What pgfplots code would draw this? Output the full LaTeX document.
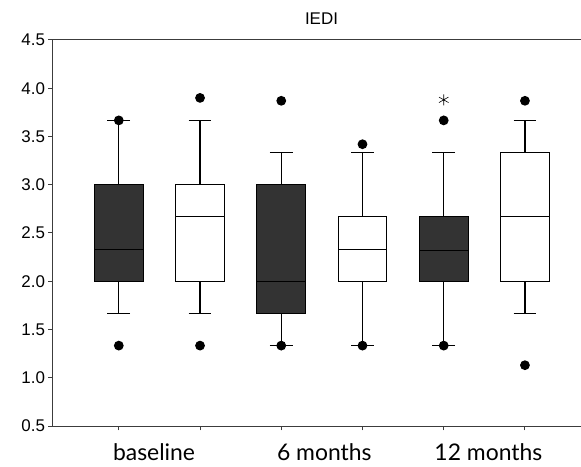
\documentclass[border=0pt]{standalone}
\usepackage{fontspec}
\setmainfont{Liberation Sans}
\newfontfamily\labfont{Lato}
\usepackage{pgfplots}
\usepgfplotslibrary{statistics}
\pgfplotsset{compat=1.18}
\definecolor{darkbox}{HTML}{333333}
\definecolor{axcol}{HTML}{3C3C3C}
\begin{document}
\begin{tikzpicture}
\begin{axis}[name=ax, scale only axis, width=528bp, height=386bp,
  xmin=0.19, xmax=6.69, ymin=0.5, ymax=4.5,
  axis lines=left, axis line style={-, axcol, line width=1bp},
  tick align=outside, major tick length=4.5bp, tick style={axcol, line width=1bp},
  xtick={1,2,3,4,5,6}, xticklabels={},
  ytick={0.5,1.0,1.5,2.0,2.5,3.0,3.5,4.0,4.5},
  /pgf/number format/assume math mode=true,
  yticklabel style={/pgf/number format/.cd, fixed, fixed zerofill, precision=1},
  tick label style={font=\fontsize{17}{19}\selectfont},
  clip=false,
  boxplot/draw direction=y,
  boxplot/box extend=0.6, boxplot/whisker extend=0.28,
  every axis plot/.append style={draw=black, line width=1.1bp, mark=*, mark size=4.3bp, mark options={fill=black, draw=black, solid}},
]
\addplot[boxplot prepared={draw position=1, lower whisker=1.667, lower quartile=2.0, median=2.333, upper quartile=3.0, upper whisker=3.667}, fill=darkbox]
  coordinates {(0,3.667) (0,1.333)};
\addplot[boxplot prepared={draw position=2, lower whisker=1.667, lower quartile=2.0, median=2.667, upper quartile=3.0, upper whisker=3.667}, fill=white]
  coordinates {(0,3.9) (0,1.333)};
\addplot[boxplot prepared={draw position=3, lower whisker=1.333, lower quartile=1.667, median=2.0, upper quartile=3.0, upper whisker=3.333}, fill=darkbox]
  coordinates {(0,3.87) (0,1.333)};
\addplot[boxplot prepared={draw position=4, lower whisker=1.333, lower quartile=2.0, median=2.333, upper quartile=2.667, upper whisker=3.333}, fill=white]
  coordinates {(0,3.42) (0,1.333)};
\addplot[boxplot prepared={draw position=5, lower whisker=1.333, lower quartile=2.0, median=2.32, upper quartile=2.667, upper whisker=3.333}, fill=darkbox]
  coordinates {(0,3.667) (0,1.333)};
\addplot[boxplot prepared={draw position=6, lower whisker=1.667, lower quartile=2.0, median=2.667, upper quartile=3.333, upper whisker=3.667}, fill=white]
  coordinates {(0,3.87) (0,1.13)};
\addplot[only marks, mark=asterisk, mark size=5.5bp, line width=0.6bp, mark options={draw=black, fill=black}] coordinates {(5,3.88)};
\draw[axcol, line width=1bp] (rel axis cs:0,1) -- (rel axis cs:1,1);
\node[font=\fontsize{17}{19}\selectfont, anchor=base] at ([yshift=15bp]rel axis cs:0.5085,1) {IEDI};
\node[anchor=base, font=\labfont\fontsize{23}{26}\selectfont] at ([yshift=-34.7bp]axis cs:1.434,0.5) {baseline};
\node[anchor=base, font=\labfont\fontsize{23}{26}\selectfont] at ([yshift=-34.7bp]axis cs:3.53,0.5) {6 months};
\node[anchor=base, font=\labfont\fontsize{23}{26}\selectfont] at ([yshift=-34.7bp]axis cs:5.55,0.5) {12 months};
\end{axis}
\pgfresetboundingbox
\path ([xshift=-53bp,yshift=-41bp]ax.south west) rectangle ([yshift=40bp]ax.north east);
\end{tikzpicture}
\end{document}
